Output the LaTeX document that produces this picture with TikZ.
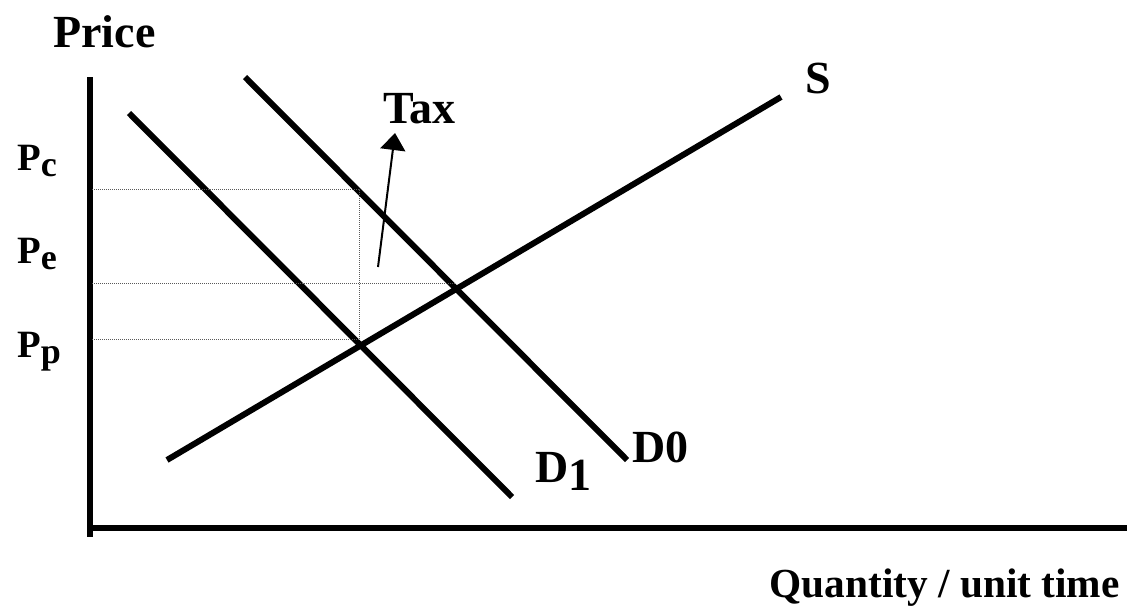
\documentclass[tikz,border=0pt]{standalone}
\usepackage{fontspec}
\setmainfont{Liberation Serif}
\usetikzlibrary{arrows.meta}

\tikzset{
  curve/.style={line width=4.5pt},
  axis/.style={line width=4.5pt},
  guide/.style={gray!70!black,line width=0.75pt,dash pattern=on 0.75pt off 0.75pt},
  lbl/.style={inner sep=0pt,anchor=base west,font=\fontsize{34.5}{40}\selectfont\bfseries},
  plbl/.style={inner sep=0pt,anchor=base west,font=\fontsize{29}{32}\selectfont\bfseries}
}
\newcommand{\psub}[1]{P\raisebox{-5pt}{\fontsize{27}{30}\selectfont #1}}

\begin{document}
\begin{tikzpicture}[x=0.75pt,y=-0.75pt]
\useasboundingbox (0,0) rectangle (1128,607);
% axes
\coordinate (ytop) at (90,77);
\coordinate (ybot) at (90,537);
\coordinate (xleft) at (87.5,528);
\coordinate (xright) at (1127,528);
\draw[axis] (ytop) -- (ybot);
\draw[axis] (xleft) -- (xright);
% supply and demand
\coordinate (s0) at (167,460);
\coordinate (s1) at (781,97);
\coordinate (d0a) at (245,77);
\coordinate (d0b) at (627,460);
\coordinate (d1a) at (129,113);
\coordinate (d1b) at (512,497);
\draw[curve] (s0) -- (s1);
\draw[curve] (d0a) -- (d0b);
\draw[curve] (d1a) -- (d1b);
% price levels
\coordinate (pc) at (92,189);  \coordinate (pcq) at (359,189);
\coordinate (pe) at (92,283);  \coordinate (peq) at (455,283);
\coordinate (pp) at (92,339);  \coordinate (ppq) at (359,339);
\draw[guide] (pc) -- (pcq) -- (ppq);
\draw[guide] (pe) -- (peq);
\draw[guide] (pp) -- (ppq);
% labels
\node[lbl] (price) at (53,47) {Price};
\node[lbl,anchor=base east,font=\fontsize{31}{36}\selectfont\bfseries] (qty) at (1120,597) {Quantity / unit time};
\node[lbl] (slbl) at (805,93) {S};
\node[lbl] (d0lbl) at (632,462) {D0};
\node[lbl] (d1lbl) at (535,482) {D\raisebox{-6pt}{1}};
\node[lbl] (tax) at (383,123) {Tax};
\node[plbl] (pclbl) at (17,170) {\psub{c}};
\node[plbl] (pelbl) at (17,263) {\psub{e}};
\node[plbl] (pplbl) at (17,357) {\psub{p}};
% tax shift
\coordinate (taxfoot) at (378,267);
\coordinate (taxtip) at (395,133);
\draw[line width=1.5pt,-{Triangle[length=12.75pt,width=18.75pt]}] (taxfoot) -- (taxtip);
\end{tikzpicture}
\end{document}
